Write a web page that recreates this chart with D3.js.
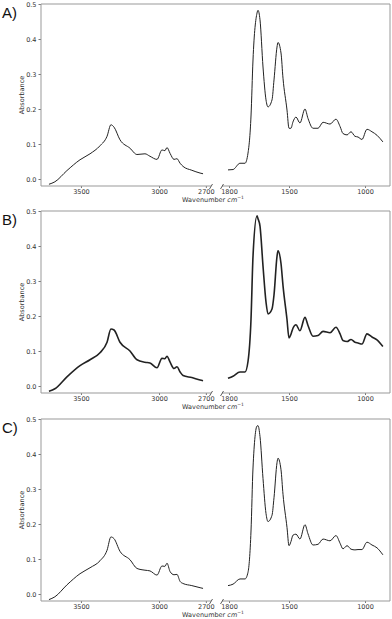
<!DOCTYPE html>
<html>
<head>
<meta charset="utf-8">
<script src="https://cdn.jsdelivr.net/npm/d3@7"></script>
<style>
  body { margin: 0; background: #fff; }
  svg { display: block; }
  .tick text { font-family: "DejaVu Sans", sans-serif; font-size: 6.5px; fill: #333; }
  .tick line { stroke: #777; }
</style>
</head>
<body>
<svg id="chart"></svg>
<script>
// panel labels
const panelNames = ["A)", "B)", "C)"];

// wavenumbers (cm-1), high-frequency part
const leftWavenumbers = [3705, 3667, 3590, 3506, 3442, 3378, 3333, 3308, 3288, 3250, 3186, 3141, 3090, 3058, 3013,
  2981, 2962, 2949, 2929, 2904, 2885, 2865, 2846, 2790, 2737, 2718];

// fingerprint part
const rightWavenumbers = [1805, 1780, 1745, 1720, 1705, 1690, 1680, 1660, 1655, 1645, 1630, 1615, 1605, 1585, 1575,
  1560, 1555, 1540, 1530, 1510, 1500, 1487, 1474, 1454, 1428, 1395, 1375, 1342, 1309, 1276, 1230, 1191, 1164,
  1145, 1118, 1092, 1066, 1046, 1020, 987, 954, 921, 882];

// absorbance, one array per panel and part
const leftA = [-0.015, -0.008, 0.024, 0.055, 0.072, 0.095, 0.122, 0.155, 0.148, 0.112, 0.088, 0.07, 0.072, 0.065, 0.056,
  0.083, 0.081, 0.09, 0.073, 0.056, 0.058, 0.045, 0.036, 0.025, 0.017, 0.015];
const rightA = [0.026, 0.027, 0.045, 0.045, 0.074, 0.18, 0.34, 0.474, 0.482, 0.455, 0.32, 0.226, 0.206, 0.226, 0.283,
  0.377, 0.39, 0.36, 0.288, 0.197, 0.145, 0.145, 0.163, 0.177, 0.16, 0.2, 0.173, 0.145, 0.145, 0.162, 0.157, 0.171, 0.15,
  0.13, 0.126, 0.135, 0.122, 0.12, 0.113, 0.142, 0.135, 0.125, 0.106];

const leftB = [-0.015, -0.008, 0.026, 0.058, 0.075, 0.095, 0.125, 0.163, 0.16, 0.125, 0.1, 0.075, 0.068, 0.066, 0.052,
  0.079, 0.078, 0.085, 0.068, 0.05, 0.055, 0.04, 0.03, 0.024, 0.017, 0.015];
const rightB = [0.022, 0.028, 0.04, 0.04, 0.07, 0.19, 0.37, 0.486, 0.478, 0.457, 0.343, 0.24, 0.206, 0.22, 0.26,
  0.37, 0.386, 0.35, 0.287, 0.19, 0.137, 0.148, 0.165, 0.175, 0.158, 0.196, 0.173, 0.142, 0.144, 0.156, 0.152, 0.168, 0.149,
  0.13, 0.127, 0.133, 0.125, 0.123, 0.12, 0.149, 0.14, 0.132, 0.113];

const leftC = [-0.016, -0.008, 0.026, 0.058, 0.075, 0.095, 0.125, 0.163, 0.158, 0.122, 0.098, 0.073, 0.068, 0.066, 0.054,
  0.08, 0.079, 0.088, 0.064, 0.055, 0.056, 0.036, 0.03, 0.024, 0.018, 0.016];
const rightC = [0.024, 0.028, 0.043, 0.043, 0.062, 0.18, 0.36, 0.48, 0.481, 0.45, 0.33, 0.23, 0.207, 0.225, 0.275,
  0.375, 0.388, 0.355, 0.285, 0.19, 0.138, 0.15, 0.168, 0.171, 0.157, 0.198, 0.172, 0.14, 0.142, 0.157, 0.152, 0.167, 0.145,
  0.129, 0.138, 0.128, 0.126, 0.127, 0.127, 0.148, 0.14, 0.132, 0.112];

// tick values
const yTicks = [0.0, 0.1, 0.2, 0.3, 0.4, 0.5];
const leftTicks = [3500, 3000, 2700];
const rightTicks = [1800, 1500, 1000];

const panelData = [
  { left: leftA, right: rightA, width: 1 },
  { left: leftB, right: rightB, width: 1.6 },
  { left: leftC, right: rightC, width: 1 }
];

const width = 392, height = 619;
const svg = d3.select("#chart").attr("width", width).attr("height", height);

const axLeft = 41, axBreakL = 211, axBreakR = 222, axRight = 390;
const panelTops = [4, 211, 419];
const panelH = 182;

// left part is linear, right part was drawn on a stretched axis
const xLeft = d3.scaleLinear().domain([3756, 2667]).range([axLeft, axBreakL]);
const xRight = d3.scaleLinear().domain([1835, 1500, 1000, 835]).range([axBreakR, 289, 365, axRight]);

panelData.forEach(function (p, i) {
  const top = panelTops[i];
  const bottom = top + panelH;
  const g = svg.append("g");

  const y = d3.scaleLinear().domain([-0.02, 0.5]).range([bottom, top]);

  // y axis
  g.append("g")
    .attr("transform", `translate(${axLeft},0)`)
    .call(d3.axisLeft(y).tickValues(yTicks).tickFormat(d3.format(".1f")).tickSize(2.5).tickSizeOuter(0).tickPadding(2))
    .call(a => a.select(".domain").remove());

  // x axes
  [[xLeft, leftTicks], [xRight, rightTicks]].forEach(function (ax) {
    g.append("g")
      .attr("transform", `translate(0,${bottom})`)
      .call(d3.axisBottom(ax[0]).tickValues(ax[1]).tickFormat(d3.format("d")).tickSize(2).tickSizeOuter(0).tickPadding(1.5))
      .call(a => a.select(".domain").remove());
  });

  // spines
  const spine = "#999";
  g.append("line").attr("x1", axLeft).attr("x2", axRight).attr("y1", top).attr("y2", top).attr("stroke", spine);
  g.append("line").attr("x1", axLeft).attr("x2", axLeft).attr("y1", top).attr("y2", bottom).attr("stroke", spine);
  g.append("line").attr("x1", axRight).attr("x2", axRight).attr("y1", top).attr("y2", bottom).attr("stroke", spine);
  g.append("line").attr("x1", axLeft).attr("x2", axBreakL).attr("y1", bottom).attr("y2", bottom).attr("stroke", spine);
  g.append("line").attr("x1", axBreakR).attr("x2", axRight).attr("y1", bottom).attr("y2", bottom).attr("stroke", spine);

  // break marks
  [axBreakL, axBreakR].forEach(function (bx) {
    g.append("line")
      .attr("x1", bx - 1.5).attr("y1", bottom + 3)
      .attr("x2", bx + 1.5).attr("y2", bottom - 2)
      .attr("stroke", "#333").attr("stroke-width", 0.8);
  });

  // spectra
  const lineL = d3.line().x((d, k) => xLeft(leftWavenumbers[k])).y(d => y(d)).curve(d3.curveMonotoneX);
  const lineR = d3.line().x((d, k) => xRight(rightWavenumbers[k])).y(d => y(d)).curve(d3.curveMonotoneX);
  g.append("path").datum(p.left).attr("d", lineL)
    .attr("fill", "none").attr("stroke", "#222").attr("stroke-width", p.width);
  g.append("path").datum(p.right).attr("d", lineR)
    .attr("fill", "none").attr("stroke", "#222").attr("stroke-width", p.width);

  // labels
  g.append("text")
    .attr("transform", `translate(24,${(top + bottom) / 2}) rotate(-90)`)
    .attr("text-anchor", "middle")
    .attr("font-family", "DejaVu Sans, sans-serif").attr("font-size", 6.5).attr("fill", "#333")
    .text("Absorbance");

  const xl = g.append("text")
    .attr("x", 213).attr("y", bottom + 16)
    .attr("text-anchor", "middle")
    .attr("font-family", "DejaVu Sans, sans-serif").attr("font-size", 6.5).attr("fill", "#333");
  xl.append("tspan").text("Wavenumber ");
  xl.append("tspan").attr("font-style", "italic").text("cm");
  xl.append("tspan").attr("dy", -3).attr("font-size", 4.5).text("\u22121");

  g.append("text")
    .attr("x", 2).attr("y", top + 14)
    .attr("font-family", "Liberation Sans, Arial, sans-serif").attr("font-size", 15).attr("fill", "#111")
    .text(panelNames[i]);
});
</script>
</body>
</html>
